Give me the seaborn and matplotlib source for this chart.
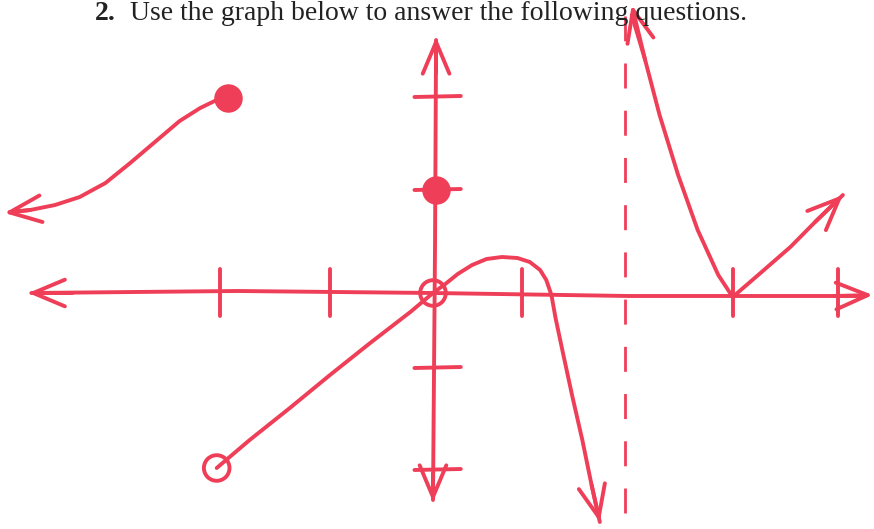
import matplotlib
matplotlib.use("Agg")
import matplotlib.pyplot as plt
import pandas as pd
import seaborn as sns

# hand-drawn graph, coordinates in graph units (1 tick = 1 unit)
left_x = [-4.11, -3.91, -3.67, -3.43, -3.18, -2.94, -2.70, -2.46, -2.26, -2.12, -1.99]
left_y = [0.81, 0.83, 0.88, 0.96, 1.10, 1.30, 1.51, 1.72, 1.85, 1.92, 1.95]

seg_x = [-2.1, -1.78, -1.39, -1.0, -0.61, -0.22, 0.0]
seg_y = [-1.75, -1.47, -1.15, -0.82, -0.50, -0.19, 0.0]

mid_x = [0.0, 0.12, 0.24, 0.38, 0.52, 0.67, 0.82, 0.94, 1.04, 1.10, 1.15, 1.19,
         1.26, 1.35, 1.45, 1.54, 1.62]
mid_y = [0.0, 0.09, 0.19, 0.28, 0.34, 0.36, 0.35, 0.31, 0.23, 0.13, -0.02, -0.25,
         -0.59, -1.02, -1.47, -1.92, -2.29]

right_x = [1.93, 2.06, 2.20, 2.38, 2.57, 2.77, 2.91, 3.18, 3.47, 3.71, 3.98]
right_y = [2.78, 2.33, 1.78, 1.18, 0.63, 0.18, -0.04, 0.20, 0.46, 0.71, 0.98]

asym_x = 1.86

filled_x = [-1.99, 0.03]
filled_y = [1.95, 1.03]
open_x = [-2.1, 0.0]
open_y = [-1.75, 0.0]

xtick_pos = [-2.07, -1.0, 0.86, 2.91, 3.93]
ytick_pos = [1.96, 1.03, -0.75, -1.77]

red = "#ef3e57"
lw = 2.8

sns.set_theme(style="white")
fig = plt.figure(figsize=(8.74, 5.29), dpi=100)
ax = fig.add_axes([0, 0, 1, 1])
ax.set_xlim(-4.204, 4.282)
ax.set_ylim(-2.36, 2.93)
ax.axis("off")


def line(xs, ys, width=lw):
    df = pd.DataFrame({"x": xs, "y": ys})
    sns.lineplot(data=df, x="x", y="y", sort=False, estimator=None,
                 color=red, lw=width, ax=ax)


def arrow(x0, y0, x1, y1):
    ax.annotate("", xy=(x1, y1), xytext=(x0, y0),
                arrowprops=dict(arrowstyle="->,head_length=1.9,head_width=0.8",
                                color=red, lw=lw, shrinkA=0, shrinkB=0))


# axes
line([-3.9, -1.9, 0, 1.9, 4.2], [0.0, 0.02, 0.0, -0.03, -0.03])
arrow(-3.5, 0.0, -3.93, 0.0)
arrow(3.9, -0.03, 4.27, -0.02)
line([0.03, 0.02, 0.0], [2.53, 0.5, -2.07])
arrow(0.03, 2.2, 0.03, 2.56)
arrow(0.0, -1.8, 0.0, -2.09)

for xt in xtick_pos:
    line([xt, xt], [0.24, -0.23])
for yt in ytick_pos:
    line([-0.18, 0.27], [yt, yt + 0.01])

# asymptote
ax.axvline(asym_x, ymin=0.03, ymax=0.97, color=red, lw=lw - 0.8, dashes=(9, 8))

# curve pieces
for xs, ys in [(left_x, left_y), (seg_x, seg_y), (mid_x, mid_y), (right_x, right_y)]:
    line(xs, ys)

arrow(left_x[1], left_y[1], left_x[0] - 0.05, left_y[0] - 0.01)
arrow(mid_x[-2], mid_y[-2], mid_x[-1], mid_y[-1])
arrow(right_x[1], right_y[1], right_x[0], right_y[0] + 0.1)
arrow(right_x[-2], right_y[-2], right_x[-1], right_y[-1])

sns.scatterplot(x=filled_x, y=filled_y, s=380, color=red, edgecolor=red,
                linewidth=1, ax=ax, zorder=5)
sns.scatterplot(x=open_x, y=open_y, s=340, facecolor="none", edgecolor=red,
                linewidth=lw, ax=ax, zorder=5)

fig.text(0.109, 1 - 20 / 529, "2.", fontsize=20, fontweight="bold",
         family="Liberation Serif", va="baseline", ha="left", color="#222222")
fig.text(0.149, 1 - 20 / 529, "Use the graph below to answer the following questions.",
         fontsize=20, family="Liberation Serif", va="baseline", ha="left", color="#222222")

fig.savefig("out.png", dpi=100)
